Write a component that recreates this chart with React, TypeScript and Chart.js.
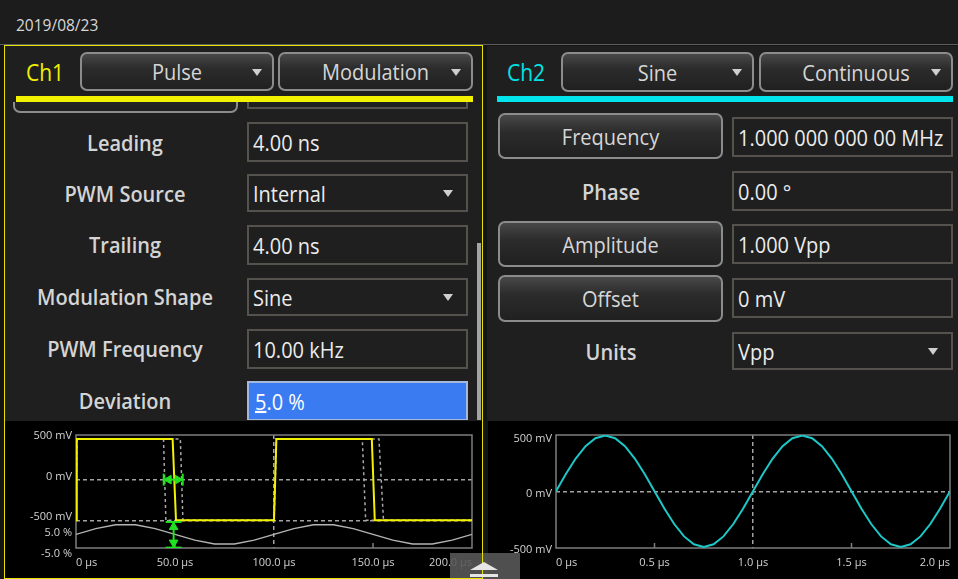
import React, { useEffect, useRef } from "react";
import { Chart, registerables } from "chart.js";

Chart.register(...registerables);

// ---------------- data ----------------
// Ch1 PWM pulse (time in µs, level in mV)
const ch1Times = [0, 0.4, 48.8, 50.5, 100, 101.2, 149.4, 150.9, 200];
const ch1Volts = [-500, 500, 500, -500, -500, 500, 500, -500, -500];
const ch1MinWidthTimes = [0, 0.4, 44.2, 45.4, 100, 101.2, 144.6, 146.3, 200];
const ch1MaxWidthTimes = [0, 0.4, 52.7, 54.0, 100, 101.2, 153.0, 155.3, 200];
// Ch1 modulation shape (time in µs, deviation in %)
const modTimes = [0, 10, 20, 30, 40, 50, 60, 70, 80, 90, 100, 110, 120, 130, 140, 150, 160, 170, 180, 190, 200];
const modPercent = [0, 2.9, 4.8, 4.8, 2.9, 0, -2.9, -4.8, -4.8, -2.9, 0, 2.9, 4.8, 4.8, 2.9, 0, -2.9, -4.8, -4.8, -2.9, 0];
// Ch1 deviation markers
const widthMarkerTimes = [44.3, 53.9];
const widthMarkerLevel = [0, 0];
const widthArrowTimes = [46.8, 51.4];
const depthMarkerTime = [49.3, 49.3];
const depthMarkerPercent = [6.2, -6.6];
const depthArrowPercent = [3.7, -4.1];

const ch1TimeTicks = [0, 50, 100, 150, 200];
const ch1TimeLabels = ["0 µs", "50.0 µs", "100.0 µs", "150.0 µs", "200.0 µs"];
const ch1VoltTicks = [500, 0, -500];
const ch1VoltLabels = ["500 mV", "0 mV", "-500 mV"];
const ch1PercentTicks = [5, -5];
const ch1PercentLabels = ["5.0 %", "-5.0 %"];

// Ch2 sine (time in µs, level in mV)
const ch2Times = [0, 0.05, 0.1, 0.15, 0.2, 0.25, 0.3, 0.35, 0.4, 0.45, 0.5, 0.55, 0.6, 0.65, 0.7, 0.75, 0.8, 0.85, 0.9, 0.95,
  1.0, 1.05, 1.1, 1.15, 1.2, 1.25, 1.3, 1.35, 1.4, 1.45, 1.5, 1.55, 1.6, 1.65, 1.7, 1.75, 1.8, 1.85, 1.9, 1.95, 2.0];
const ch2Volts = [0, 155, 294, 405, 476, 500, 476, 405, 294, 155, 0, -155, -294, -405, -476, -500, -476, -405, -294, -155,
  0, 155, 294, 405, 476, 500, 476, 405, 294, 155, 0, -155, -294, -405, -476, -500, -476, -405, -294, -155, 0];
const ch2TimeTicks = [0, 0.5, 1, 1.5, 2];
const ch2TimeLabels = ["0 µs", "0.5 µs", "1.0 µs", "1.5 µs", "2.0 µs"];
const ch2VoltTicks = [500, 0, -500];
const ch2VoltLabels = ["500 mV", "0 mV", "-500 mV"];

// ---------------- styling ----------------
const FONT = '"Open Sans", "Noto Sans", sans-serif';
const TICK_COLOR = "#d2d2d2";
const GRID = "#a2a2a2";
const FRAME = "#7e7e7e";
const YELLOW = "#f2f200";
const CYAN = "#1cc8c8";
const GREEN = "#22e022";

Chart.defaults.font.family = FONT;

const pts = (xs: number[], ys: number[]) => xs.map((x, i) => ({ x, y: ys[i] }));

const framePlugin = {
  id: "frame",
  beforeDatasetsDraw(chart: any, _args: any, opts: any) {
    const { ctx, chartArea: a } = chart;
    ctx.save();
    ctx.strokeStyle = opts.color;
    ctx.lineWidth = 1.5;
    ctx.strokeRect(a.left, a.top, a.right - a.left, a.bottom - a.top);
    const xs = chart.scales.x;
    (opts.innerTicks || []).forEach((v: number) => {
      const px = xs.getPixelForValue(v);
      ctx.beginPath();
      ctx.moveTo(px, a.bottom);
      ctx.lineTo(px, a.bottom - 5);
      ctx.stroke();
    });
    ctx.restore();
  },
};

function xScale(min: number, max: number, ticks: number[], labels: string[], gridAt: number, height: number) {
  return {
    type: "linear",
    min,
    max,
    afterBuildTicks: (s: any) => {
      s.ticks = ticks.map((v) => ({ value: v }));
    },
    afterFit: (s: any) => {
      s.height = height;
    },
    ticks: {
      callback: (_v: any, i: number) => labels[i],
      color: TICK_COLOR,
      font: { family: FONT, size: 11 },
      align: "inner",
      maxRotation: 0,
      autoSkip: false,
      padding: 8,
    },
    grid: {
      color: (c: any) => (c.tick && c.tick.value === gridAt ? GRID : "transparent"),
      lineWidth: 1.5,
      drawTicks: false,
    },
    border: { display: false, dash: [4, 3] },
  };
}

function yScale(min: number, max: number, ticks: number[], labels: string[], gridAt: number[], width: number, offset: number, weight: number) {
  return {
    type: "linear",
    position: "left",
    min,
    max,
    weight,
    afterBuildTicks: (s: any) => {
      s.ticks = ticks.map((v) => ({ value: v }));
    },
    afterFit: (s: any) => {
      s.width = width;
      // let labels of a zero-width axis draw outside its own box
      s._computeLabelArea = () => undefined;
    },
    ticks: {
      callback: (_v: any, i: number) => labels[i],
      color: TICK_COLOR,
      font: { family: FONT, size: 11 },
      autoSkip: false,
      padding: 4,
      labelOffset: offset,
    },
    grid: {
      display: gridAt.length > 0,
      color: (c: any) => (c.tick && gridAt.indexOf(c.tick.value) >= 0 ? GRID : "transparent"),
      lineWidth: 1.5,
      drawTicks: false,
    },
    border: { display: false, dash: [4, 3] },
  };
}

function ch1Config(): any {
  return {
    type: "line",
    data: {
      datasets: [
        {
          data: pts(widthArrowTimes, widthMarkerLevel),
          showLine: false,
          pointStyle: "triangle",
          pointRotation: [-90, 90],
          pointRadius: 5,
          pointBackgroundColor: GREEN,
          pointBorderColor: GREEN,
          pointBorderWidth: 1,
          yAxisID: "y",
        },
        {
          data: pts(widthMarkerTimes, widthMarkerLevel),
          borderColor: GREEN,
          borderWidth: 2,
          pointStyle: "line",
          pointRotation: 90,
          pointRadius: 6,
          pointBorderColor: GREEN,
          pointBorderWidth: 2,
          yAxisID: "y",
        },
        {
          data: pts(depthMarkerTime, depthArrowPercent),
          showLine: false,
          pointStyle: "triangle",
          pointRotation: [0, 180],
          pointRadius: 5,
          pointBackgroundColor: GREEN,
          pointBorderColor: GREEN,
          pointBorderWidth: 1,
          yAxisID: "y2",
        },
        {
          data: pts(depthMarkerTime, depthMarkerPercent),
          borderColor: GREEN,
          borderWidth: 2,
          pointStyle: "line",
          pointRotation: 0,
          pointRadius: 8,
          pointBorderColor: GREEN,
          pointBorderWidth: 2,
          yAxisID: "y2",
        },
        { data: pts(ch1Times, ch1Volts), borderColor: YELLOW, borderWidth: 2, pointRadius: 0, yAxisID: "y" },
        { data: pts(ch1MinWidthTimes, ch1Volts), borderColor: "#a8a8a8", borderWidth: 1.5, borderDash: [3, 3], pointRadius: 0, yAxisID: "y" },
        { data: pts(ch1MaxWidthTimes, ch1Volts), borderColor: "#a8a8a8", borderWidth: 1.5, borderDash: [3, 3], pointRadius: 0, yAxisID: "y" },
        { data: pts(modTimes, modPercent), borderColor: "#b4b4b4", borderWidth: 1.3, pointRadius: 0, yAxisID: "y2" },
      ],
    },
    options: {
      animation: false,
      responsive: false,
      devicePixelRatio: 1,
      layout: { padding: { top: 14, right: 10, left: 0, bottom: 0 } },
      elements: { line: { tension: 0, fill: false } },
      plugins: {
        legend: { display: false },
        tooltip: { enabled: false },
        frame: { color: FRAME, innerTicks: [50, 150] },
      },
      scales: {
        x: xScale(0, 200, ch1TimeTicks, ch1TimeLabels, 100, 30),
        y: yScale(-841, 549, ch1VoltTicks, ch1VoltLabels, [0, -500], 71, -3, 10),
        y2: yScale(-6.8, 49.6, ch1PercentTicks, ch1PercentLabels, [], 0, 9, 0),
      },
    },
    plugins: [framePlugin],
  };
}

function ch2Config(): any {
  return {
    type: "line",
    data: {
      datasets: [{ data: pts(ch2Times, ch2Volts), borderColor: CYAN, borderWidth: 2, pointRadius: 0 }],
    },
    options: {
      animation: false,
      responsive: false,
      devicePixelRatio: 1,
      layout: { padding: { top: 14, right: 5, left: 0, bottom: 0 } },
      elements: { line: { tension: 0, fill: false } },
      plugins: {
        legend: { display: false },
        tooltip: { enabled: false },
        frame: { color: FRAME, innerTicks: [0.5, 1.5] },
      },
      scales: {
        x: xScale(0, 2, ch2TimeTicks, ch2TimeLabels, 1, 31),
        y: yScale(-509, 505, ch2VoltTicks, ch2VoltLabels, [0], 68, 3, 0),
      },
    },
    plugins: [framePlugin],
  };
}

// ---------------- UI pieces ----------------
const tx: React.CSSProperties = { display: "inline-block", transform: "scaleY(1.1)", whiteSpace: "nowrap" };

function Arrow({ right }: { right: number }) {
  return (
    <div
      style={{
        position: "absolute",
        right,
        top: "50%",
        marginTop: -3,
        width: 0,
        height: 0,
        borderLeft: "5px solid transparent",
        borderRight: "5px solid transparent",
        borderTop: "7px solid #cfcfcf",
      }}
    />
  );
}

function Btn({ x, y, w, h, text, arrow }: any) {
  return (
    <div
      style={{
        position: "absolute",
        left: x,
        top: y,
        width: w,
        height: h,
        boxSizing: "border-box",
        border: "2px solid #8c8c8c",
        borderRadius: 7,
        background: "linear-gradient(to bottom, #484848 0%, #2c2c2c 40%, #202020 100%)",
        display: "flex",
        alignItems: "center",
        justifyContent: "center",
        color: "#d6d6d6",
        fontSize: 20,
      }}
    >
      <span style={tx}>{text}</span>
      {arrow && <Arrow right={10} />}
    </div>
  );
}

function Field({ x, y, w, h, text, arrow, active }: any) {
  return (
    <div
      style={{
        position: "absolute",
        left: x,
        top: y,
        width: w,
        height: h,
        boxSizing: "border-box",
        border: active ? "2px solid #a4b8dc" : "2px solid #55514c",
        background: active ? "#3a7bf2" : "transparent",
        display: "flex",
        alignItems: "center",
        paddingLeft: active ? 6 : 4,
        color: active ? "#ffffff" : "#ececec",
        fontSize: 20,
      }}
    >
      <span style={tx}>{text}</span>
      {arrow && <Arrow right={13} />}
    </div>
  );
}

function Label({ cx, cy, text }: any) {
  return (
    <div
      style={{
        position: "absolute",
        left: cx - 130,
        width: 260,
        top: cy - 15,
        height: 30,
        lineHeight: "30px",
        textAlign: "center",
        fontSize: 20,
        fontWeight: 600,
        color: "#d4d4d4",
      }}
    >
      <span style={tx}>{text}</span>
    </div>
  );
}

export default function App() {
  const c1 = useRef<HTMLCanvasElement>(null);
  const c2 = useRef<HTMLCanvasElement>(null);

  useEffect(() => {
    const a = new Chart(c1.current as HTMLCanvasElement, ch1Config());
    const b = new Chart(c2.current as HTMLCanvasElement, ch2Config());
    return () => {
      a.destroy();
      b.destroy();
    };
  }, []);

  return (
    <div
      style={{
        position: "fixed",
        left: 0,
        top: 0,
        width: 958,
        height: 579,
        overflow: "hidden",
        background: "#141414",
        fontFamily: FONT,
      }}
    >
      {/* header */}
      <div style={{ position: "absolute", left: 0, top: 0, width: 958, height: 44, background: "#1c1c1c" }} />
      <div style={{ position: "absolute", left: 0, top: 44, width: 958, height: 1, background: "#5e5e5e" }} />
      <div style={{ position: "absolute", left: 16, top: 12, height: 24, lineHeight: "24px", fontSize: 15.5, color: "#d8d8d8" }}>
        <span style={tx}>2019/08/23</span>
      </div>

      {/* Ch1 panel */}
      <div style={{ position: "absolute", left: 5, top: 46, width: 477, height: 375, background: "#1f1f1f" }} />
      <div style={{ position: "absolute", left: 26, top: 57, height: 30, lineHeight: "30px", fontSize: 21, color: "#f0f000" }}>
        <span style={tx}>Ch1</span>
      </div>
      <Btn x={80} y={52} w={194} h={39} text="Pulse" arrow />
      <Btn x={278} y={52} w={195} h={39} text="Modulation" arrow />
      <div style={{ position: "absolute", left: 16, top: 96, width: 457, height: 6, background: YELLOW }} />

      <div style={{ position: "absolute", left: 5, top: 102, width: 472, height: 318, overflow: "hidden" }}>
        <div style={{ position: "absolute", left: -5, top: -102 }}>
          <Btn x={13} y={66} w={225} h={47} text="" />
          <Field x={247} y={69} w={221} h={40} text="" />
          <Label cx={125} cy={143} text="Leading" />
          <Field x={247} y={122} w={221} h={40} text="4.00 ns" />
          <Label cx={125} cy={194} text="PWM Source" />
          <Field x={247} y={174} w={221} h={38} text="Internal" arrow />
          <Label cx={125} cy={245} text="Trailing" />
          <Field x={247} y={225} w={221} h={40} text="4.00 ns" />
          <Label cx={125} cy={297} text="Modulation Shape" />
          <Field x={247} y={278} w={221} h={38} text="Sine" arrow />
          <Label cx={125} cy={349} text="PWM Frequency" />
          <Field x={247} y={329} w={221} h={40} text="10.00 kHz" />
          <Label cx={125} cy={401} text="Deviation" />
          <Field
            x={247}
            y={381}
            w={221}
            h={40}
            active
            text={
              <span>
                <span style={{ textDecoration: "underline" }}>5</span>.0 %
              </span>
            }
          />
        </div>
      </div>
      <div style={{ position: "absolute", left: 477, top: 243, width: 4, height: 177, background: "#a4a4a4" }} />

      {/* Ch1 chart */}
      <div style={{ position: "absolute", left: 5, top: 421, width: 477, height: 158, background: "#000" }} />
      <canvas ref={c1} width={477} height={157} style={{ position: "absolute", left: 5, top: 421, display: "block" }} />

      {/* Ch2 panel */}
      <div style={{ position: "absolute", left: 487, top: 46, width: 471, height: 375, background: "#1f1f1f" }} />
      <div style={{ position: "absolute", left: 507, top: 57, height: 30, lineHeight: "30px", fontSize: 21, color: "#00e2e6" }}>
        <span style={tx}>Ch2</span>
      </div>
      <Btn x={561} y={52} w={193} h={40} text="Sine" arrow />
      <Btn x={759} y={52} w={194} h={40} text="Continuous" arrow />
      <div style={{ position: "absolute", left: 497, top: 96, width: 456, height: 6, background: "#00e4ec" }} />

      <Btn x={498} y={113} w={225} h={46} text="Frequency" />
      <Field x={732} y={117} w={221} h={40} text="1.000 000 000 00 MHz" />
      <Label cx={611} cy={192} text="Phase" />
      <Field x={732} y={171} w={221} h={40} text="0.00 °" />
      <Btn x={498} y={221} w={225} h={46} text="Amplitude" />
      <Field x={732} y={224} w={221} h={40} text="1.000 Vpp" />
      <Btn x={498} y={275} w={225} h={47} text="Offset" />
      <Field x={732} y={278} w={221} h={40} text="0 mV" />
      <Label cx={611} cy={352} text="Units" />
      <Field x={732} y={332} w={221} h={38} text="Vpp" arrow />

      {/* Ch2 chart */}
      <div style={{ position: "absolute", left: 488, top: 421, width: 470, height: 158, background: "#000" }} />
      <canvas ref={c2} width={470} height={158} style={{ position: "absolute", left: 488, top: 421, display: "block" }} />

      {/* overlay button background */}
      <div style={{ position: "absolute", left: 450, top: 553, width: 70, height: 26, background: "rgba(88,88,88,0.9)" }} />

      {/* Ch1 frame */}
      <div
        style={{
          position: "absolute",
          left: 4,
          top: 45,
          width: 479,
          height: 534,
          boxSizing: "border-box",
          border: "1px solid #e4e400",
          pointerEvents: "none",
        }}
      />

      {/* eject icon */}
      <div
        style={{
          position: "absolute",
          left: 470,
          top: 562,
          width: 0,
          height: 0,
          borderLeft: "14px solid transparent",
          borderRight: "14px solid transparent",
          borderBottom: "8px solid #e6e6e6",
        }}
      />
      <div style={{ position: "absolute", left: 470, top: 574, width: 28, height: 3, background: "#e6e6e6" }} />
    </div>
  );
}
